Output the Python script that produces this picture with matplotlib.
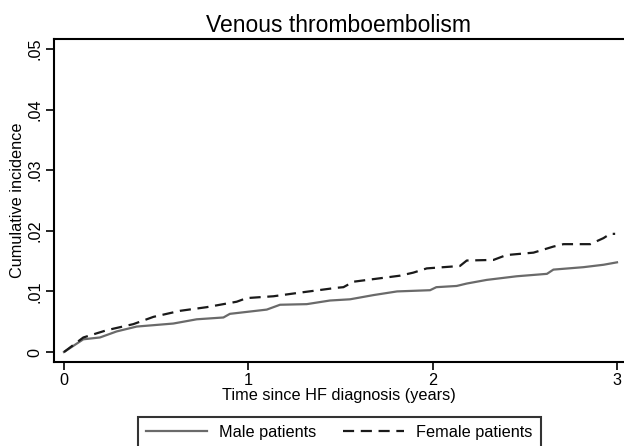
import matplotlib
matplotlib.use("Agg")
import matplotlib.pyplot as plt
from matplotlib.ticker import FuncFormatter

plt.rcParams["font.family"] = ["Liberation Sans", "DejaVu Sans"]

# cumulative incidence
male_years = [0.0, 0.105, 0.195, 0.286, 0.394, 0.593, 0.72, 0.865, 0.90, 1.10,
              1.172, 1.317, 1.443, 1.552, 1.68, 1.807, 1.986, 2.02, 2.13, 2.185,
              2.293, 2.456, 2.62, 2.655, 2.818, 2.927, 3.0]
male_inc = [0.0, 0.0021, 0.0024, 0.0034, 0.0042, 0.0047, 0.0054, 0.0057, 0.0063, 0.0070,
            0.0078, 0.0079, 0.0085, 0.0087, 0.0094, 0.0100, 0.0102, 0.0107, 0.0109, 0.0113,
            0.0119, 0.0125, 0.0129, 0.0136, 0.0140, 0.0144, 0.0148]

female_years = [0.0, 0.105, 0.232, 0.376, 0.485, 0.63, 0.774, 0.937, 0.991, 1.136,
                1.28, 1.48, 1.516, 1.57, 1.823, 1.895, 1.968, 2.148, 2.185, 2.33,
                2.40, 2.547, 2.655, 2.71, 2.855, 2.927, 2.963, 2.99]
female_inc = [0.0, 0.0024, 0.0036, 0.0046, 0.0058, 0.0068, 0.0074, 0.0083, 0.0089, 0.0092,
              0.0098, 0.0106, 0.0107, 0.0116, 0.0126, 0.0131, 0.0138, 0.0142, 0.0151, 0.0152,
              0.0160, 0.0164, 0.0174, 0.0178, 0.0178, 0.0188, 0.0195, 0.0195]

x_ticks = [0, 1, 2, 3]
y_ticks = [0, 0.01, 0.02, 0.03, 0.04, 0.05]


def stata_fmt(v, pos):
    if abs(v) < 1e-9:
        return "0"
    return ("%.2f" % v).lstrip("0")


fs = 11.7

fig = plt.figure(figsize=(6.24, 4.46), dpi=100)
ax = fig.add_axes([0.0865, 0.1883, 0.9135, 0.7242])

ax.plot(male_years, male_inc, color="#6a6a6a", linewidth=1.6, label="Male patients")
ax.plot(female_years, female_inc, color="#1a1a1a", linewidth=1.6,
        dashes=(5, 3), label="Female patients")

ax.set_xlim(-0.0543, 3.038)
ax.set_ylim(-0.00165, 0.05165)
ax.set_xticks(x_ticks)
ax.set_yticks(y_ticks)
ax.yaxis.set_major_formatter(FuncFormatter(stata_fmt))
ax.tick_params(direction="out", length=6, width=1.2, labelsize=fs, colors="black", pad=2)
for lbl in ax.get_yticklabels():
    lbl.set_rotation(90)
    lbl.set_va("center")
ax.spines["right"].set_visible(False)
for s in ["left", "top", "bottom"]:
    ax.spines[s].set_linewidth(1.5)

ax.set_title("Venous thromboembolism", fontsize=16.5, pad=5)
ax.set_xlabel("Time since HF diagnosis (years)", fontsize=fs, labelpad=0)
ax.set_ylabel("Cumulative incidence", fontsize=fs, labelpad=2)

leg = fig.legend(loc="upper left", bbox_to_anchor=(138 / 624, 1 - 417 / 446),
                 ncol=2, fontsize=fs, handlelength=3.75, handletextpad=0.74,
                 columnspacing=1.66, frameon=True, fancybox=False,
                 borderpad=0.5, borderaxespad=0, edgecolor="black")
leg.get_frame().set_linewidth(1.5)

fig.savefig("out.png", dpi=100)
